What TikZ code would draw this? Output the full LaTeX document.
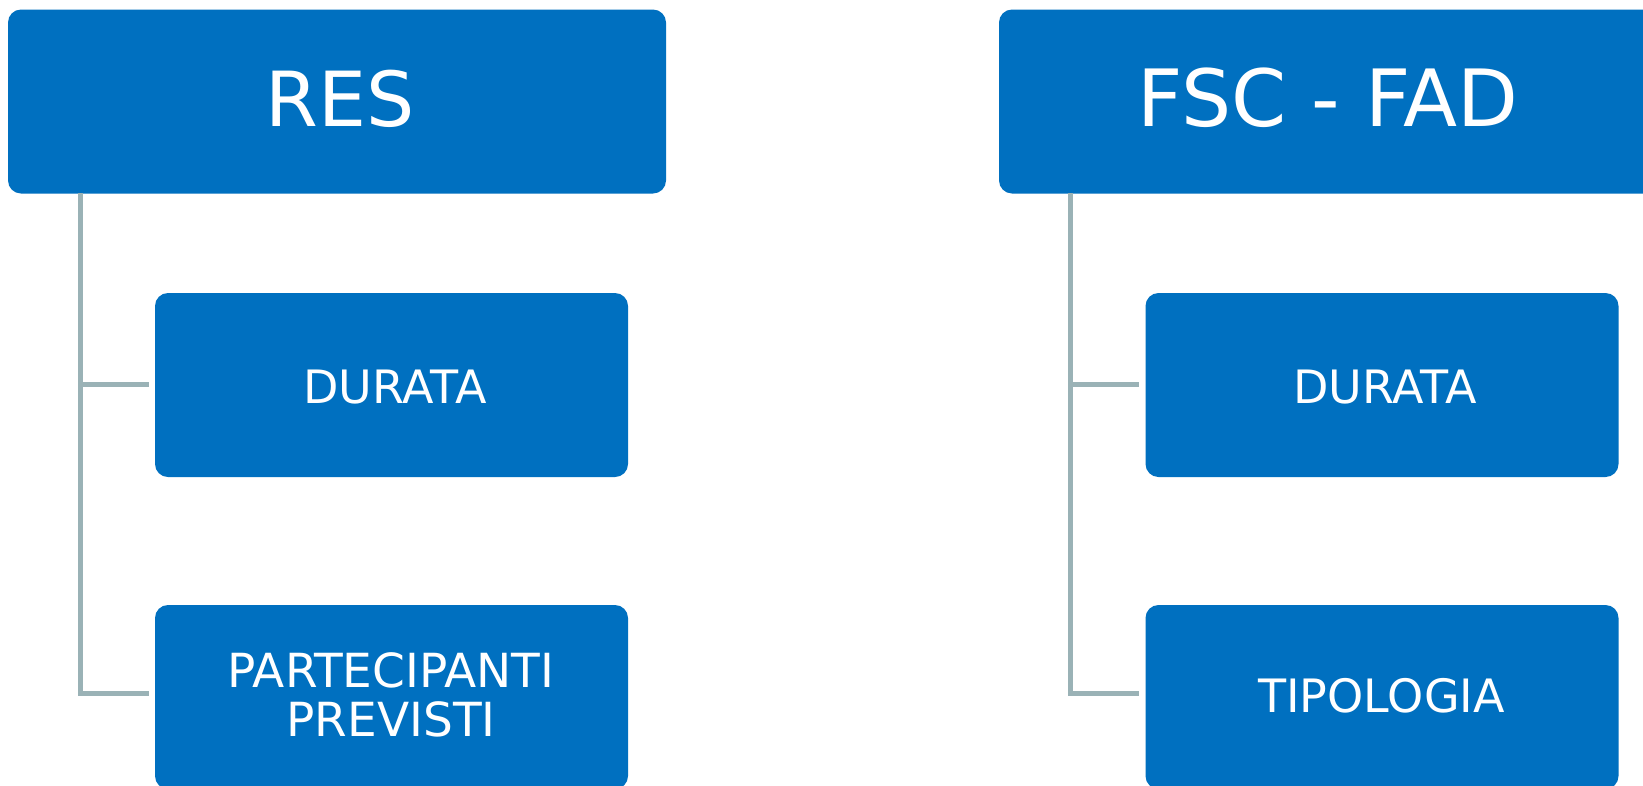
\documentclass[tikz,border=0pt]{standalone}
\usepackage{fontspec}
\setmainfont{DejaVu Sans}
\definecolor{boxblue}{HTML}{0070C0}
\definecolor{linegrey}{HTML}{9AB2B6}
\begin{document}
\begin{tikzpicture}[x=1pt,y=-1pt,
  topbox/.style={fill=boxblue,rounded corners=13pt,minimum width=658pt,minimum height=184pt,inner sep=0pt},
  subbox/.style={fill=boxblue,rounded corners=13pt,minimum width=473pt,minimum height=184pt,inner sep=0pt},
  bigtxt/.style={text=white,font=\fontsize{76}{90}\selectfont,anchor=base,inner sep=0pt},
  smalltxt/.style={text=white,font=\fontsize{46}{49}\selectfont,anchor=base,inner sep=0pt,align=center},
  conn/.style={draw=linegrey,line width=5pt}]
\useasboundingbox (0,0) rectangle (1643,785);
\clip (0,0) rectangle (1643,785);
\fill[white] (0,0) rectangle (1643,785);
% boxes
\node[topbox] (res) at (337,101.5) {};
\node[topbox] (fsc) at (1328,101.5) {};
\node[subbox] (d1) at (391.5,385) {};
\node[subbox] (p1) at (391.5,697) {};
\node[subbox] (d2) at (1382,385) {};
\node[subbox] (t2) at (1382,697) {};
% texts
\node[bigtxt] (restxt) at (340,126) {RES};
\node[bigtxt,font=\fontsize{79}{90}\selectfont] (fsctxt) at (1328,126) {FSC - FAD};
\node[smalltxt] (d1txt) at (395,403) {DURATA};
\node[smalltxt,font=\fontsize{47}{49}\selectfont] (p1txt) at (391,736) {PARTECIPANTI\\PREVISTI};
\node[smalltxt] (d2txt) at (1385,403) {DURATA};
\node[smalltxt] (t2txt) at (1381.5,712) {TIPOLOGIA};
% connectors
\coordinate (r1) at (80,193);
\coordinate (j1) at (80,693.5);
\coordinate (k1) at (80,384);
\coordinate (r2) at (1070,193);
\coordinate (j2) at (1070,693.5);
\coordinate (k2) at (1070,384);
\draw[conn,shorten >=6pt] (r1) |- (j1 -| p1.west);
\draw[conn,shorten >=6pt] (k1) -- (k1 -| d1.west);
\draw[conn,shorten >=6pt] (r2) |- (j2 -| t2.west);
\draw[conn,shorten >=6pt] (k2) -- (k2 -| d2.west);
\end{tikzpicture}
\end{document}
